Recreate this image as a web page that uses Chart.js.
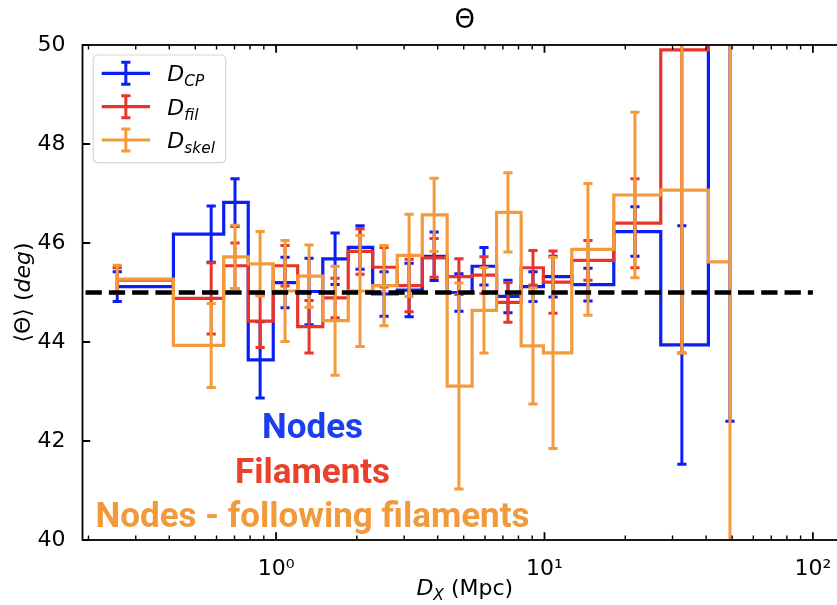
<!DOCTYPE html>
<html><head><meta charset="utf-8">
<script src="https://cdn.jsdelivr.net/npm/chart.js@4/dist/chart.umd.min.js"></script>
<style>
html,body{margin:0;padding:0;overflow:hidden;background:#fff;width:837px;height:605px}
#wrap{width:850px;height:605px;position:relative}
</style></head><body>
<div id="wrap"><canvas id="c"></canvas></div>
<script>
// ---- data ----
const distanceMpc = [0.256, 0.573, 0.703, 0.872, 1.080, 1.327, 1.659, 2.055, 2.525, 3.13, 3.88, 4.80, 5.95, 7.31, 9.06, 10.76, 14.52, 21.73, 32.5, 49.1];
const thetaCP   = [45.12, 46.18, 46.82, 43.64, 45.20, 45.02, 45.68, 45.91, 44.97, 45.05, 45.73, 45.00, 45.53, 44.92, 45.12, 45.32, 45.16, 46.23, 43.94, 55.5];
const errCP     = [0.30, 0.57, 0.48, 0.77, 0.51, 0.67, 0.52, 0.44, 0.45, 0.54, 0.49, 0.38, 0.38, 0.33, 0.30, 0.41, 0.33, 0.50, 2.41, 13.1];
const thetaFil  = [45.25, 44.88, 45.54, 44.42, 45.54, 44.31, 44.89, 45.83, 45.51, 45.14, 45.70, 45.32, 45.35, 44.80, 45.50, 45.21, 45.65, 46.40, 49.90, 55.0];
const errFil    = [0.25, 0.72, 0.46, 0.53, 0.41, 0.53, 0.40, 0.46, 0.40, 0.53, 0.39, 0.36, 0.37, 0.40, 0.35, 0.63, 0.40, 0.90, 6.12, 4.0];
const thetaSkel = [45.27, 43.93, 45.72, 45.58, 45.03, 45.33, 44.43, 45.03, 45.14, 45.75, 46.57, 43.11, 44.64, 46.62, 43.92, 43.78, 45.87, 46.97, 47.07, 45.62];
const errSkel   = [0.28, 0.85, 0.64, 0.65, 1.02, 0.63, 1.10, 1.12, 0.81, 0.83, 0.74, 2.08, 0.86, 0.80, 1.17, 1.93, 1.33, 1.67, 3.29, 6.5];

const seriesSubscripts = ['CP', 'fil', 'skel'];
const seriesColors = ['#0b1ff5', '#e8352c', '#f39a3c'];
const textColors = ['#1a3ef0', '#e9412b', '#f19a3c'];
const annotationTexts = ['Nodes', 'Filaments', 'Nodes - following filaments'];
const annotationX = 1.367;
const annotationY = [42.06, 41.15, 40.26];

const referenceLevel = 45;
const referenceRange = [0.195, 100];
const xRange = [0.19, 134];
const yRange = [40, 50];
const yTickValues = [40, 42, 44, 46, 48, 50];
const xMajorTicks = [1, 10, 100];
const xMinorTicks = [0.2,0.3,0.4,0.5,0.6,0.7,0.8,0.9,2,3,4,5,6,7,8,9,20,30,40,50,60,70,80,90];
const titleText = 'Θ';

// steps-mid in data space (like matplotlib drawstyle='steps-mid')
function stepMid(xs, ys) {
  const pts = [];
  for (let i = 0; i < xs.length; i++) {
    const xl = i === 0 ? xs[0] : (xs[i - 1] + xs[i]) / 2;
    const xr = i === xs.length - 1 ? xs[i] : (xs[i] + xs[i + 1]) / 2;
    pts.push({x: xl, y: ys[i]}, {x: xr, y: ys[i]});
  }
  return pts;
}
const supMap = {'0':'⁰','1':'¹','2':'²','3':'³','-':'⁻'};
const sup = s => String(s).split('').map(c => supMap[c] || c).join('');

const series = [
  {ys: thetaCP, err: errCP},
  {ys: thetaFil, err: errFil},
  {ys: thetaSkel, err: errSkel}
];
const datasets = series.map((s, k) => ({
  label: 'D_' + seriesSubscripts[k],
  data: stepMid(distanceMpc, s.ys),
  borderColor: seriesColors[k],
  borderWidth: 3.2,
  pointRadius: 0,
  fill: false,
  tension: 0,
  clip: 0,
  order: 3 - k,
  errInfo: {xs: distanceMpc, ys: s.ys, err: s.err}
}));
datasets.push({
  label: 'ref',
  data: [{x: referenceRange[0], y: referenceLevel}, {x: referenceRange[1], y: referenceLevel}],
  borderColor: '#000', borderWidth: 4.4, borderDash: [16.3, 7], pointRadius: 0, order: 0, clip: 0
});

const errorBarPlugin = {
  id: 'errorBars',
  afterDatasetDraw(chart, args) {
    const ds = chart.data.datasets[args.index];
    if (!ds.errInfo) return;
    const {ctx, chartArea: a, scales: {x, y}} = chart;
    ctx.save();
    ctx.beginPath(); ctx.rect(a.left, a.top, a.right - a.left, a.bottom - a.top); ctx.clip();
    ctx.strokeStyle = ds.borderColor; ctx.lineWidth = 3; ctx.lineCap = 'butt';
    const e = ds.errInfo;
    e.xs.forEach((xv, i) => {
      const px = x.getPixelForValue(xv);
      const lo = y.getPixelForValue(e.ys[i] - e.err[i]);
      const hi = y.getPixelForValue(e.ys[i] + e.err[i]);
      ctx.beginPath();
      ctx.moveTo(px, lo); ctx.lineTo(px, hi);
      ctx.moveTo(px - 4.6, lo); ctx.lineTo(px + 4.6, lo);
      ctx.moveTo(px - 4.6, hi); ctx.lineTo(px + 4.6, hi);
      ctx.stroke();
    });
    ctx.restore();
  }
};

function drawMixed(ctx, parts, x, y, align) {
  let w = 0;
  parts.forEach(p => { ctx.font = p.font; w += ctx.measureText(p.t).width; });
  let cx = align === 'center' ? x - w / 2 : x;
  parts.forEach(p => { ctx.font = p.font; ctx.fillText(p.t, cx, y + (p.dy || 0)); cx += ctx.measureText(p.t).width; });
}

const overlayPlugin = {
  id: 'overlay',
  afterDatasetsDraw(chart) {
    const {ctx, chartArea: a, scales: {x, y}} = chart;
    ctx.save();
    ctx.strokeStyle = '#000'; ctx.lineWidth = 1.8;
    ctx.strokeRect(a.left, a.top, a.right - a.left, a.bottom - a.top);
    ctx.beginPath();
    xMajorTicks.forEach(v => { const p = x.getPixelForValue(v); if (p < a.left || p > a.right) return;
      ctx.moveTo(p, a.bottom); ctx.lineTo(p, a.bottom - 7.7); ctx.moveTo(p, a.top); ctx.lineTo(p, a.top + 7.7); });
    yTickValues.forEach(v => { const p = y.getPixelForValue(v);
      ctx.moveTo(a.left, p); ctx.lineTo(a.left + 7.7, p); ctx.moveTo(a.right, p); ctx.lineTo(a.right - 7.7, p); });
    ctx.stroke();
    ctx.lineWidth = 1.4;
    ctx.beginPath();
    xMinorTicks.forEach(v => { const p = x.getPixelForValue(v); if (p < a.left || p > a.right) return;
      ctx.moveTo(p, a.bottom); ctx.lineTo(p, a.bottom - 4.4); ctx.moveTo(p, a.top); ctx.lineTo(p, a.top + 4.4); });
    ctx.stroke();

    ctx.textAlign = 'center'; ctx.textBaseline = 'alphabetic';
    ctx.font = 'bold 35px Roboto';
    annotationTexts.forEach((t, i) => {
      ctx.fillStyle = textColors[i];
      ctx.fillText(t, x.getPixelForValue(annotationX), y.getPixelForValue(annotationY[i]));
    });

    const L = a.left + 10.8, T = a.top + 10, W = 132.4, H = 107.7, r = 5;
    ctx.globalAlpha = 0.8;
    ctx.fillStyle = '#fff'; ctx.strokeStyle = '#cccccc'; ctx.lineWidth = 1.2;
    ctx.beginPath();
    ctx.moveTo(L + r, T); ctx.lineTo(L + W - r, T); ctx.quadraticCurveTo(L + W, T, L + W, T + r);
    ctx.lineTo(L + W, T + H - r); ctx.quadraticCurveTo(L + W, T + H, L + W - r, T + H);
    ctx.lineTo(L + r, T + H); ctx.quadraticCurveTo(L, T + H, L, T + H - r);
    ctx.lineTo(L, T + r); ctx.quadraticCurveTo(L, T, L + r, T);
    ctx.closePath(); ctx.fill(); ctx.stroke();
    ctx.globalAlpha = 1;
    seriesSubscripts.forEach((s, i) => {
      const cy = T + 18.3 + i * 33.35;
      const hx0 = L + 8.4, hx1 = L + 56.7, hc = (hx0 + hx1) / 2;
      ctx.strokeStyle = seriesColors[i]; ctx.lineWidth = 3.2;
      ctx.beginPath(); ctx.moveTo(hx0, cy); ctx.lineTo(hx1, cy); ctx.stroke();
      ctx.lineWidth = 3;
      ctx.beginPath();
      ctx.moveTo(hc, cy - 11); ctx.lineTo(hc, cy + 11);
      ctx.moveTo(hc - 4.6, cy - 11); ctx.lineTo(hc + 4.6, cy - 11);
      ctx.moveTo(hc - 4.6, cy + 11); ctx.lineTo(hc + 4.6, cy + 11);
      ctx.stroke();
      ctx.fillStyle = '#000'; ctx.textAlign = 'left'; ctx.textBaseline = 'alphabetic';
      drawMixed(ctx, [
        {t: 'D', font: 'italic 22px "DejaVu Sans"'},
        {t: s, font: 'italic 15.4px "DejaVu Sans"', dy: 5}
      ], L + 74, cy + 8, 'left');
    });

    ctx.fillStyle = '#000'; ctx.textAlign = 'left'; ctx.textBaseline = 'alphabetic';
    drawMixed(ctx, [
      {t: 'D', font: 'italic 22px "DejaVu Sans"'},
      {t: 'X', font: 'italic 15.4px "DejaVu Sans"', dy: 5},
      {t: ' (Mpc)', font: '22px "DejaVu Sans"'}
    ], (a.left + a.right) / 2, 595, 'center');

    ctx.save();
    ctx.translate(30, (a.top + a.bottom) / 2);
    ctx.rotate(-Math.PI / 2);
    drawMixed(ctx, [
      {t: '⟨Θ⟩ (', font: '22px "DejaVu Sans"'},
      {t: 'deg', font: 'italic 22px "DejaVu Sans"'},
      {t: ')', font: '22px "DejaVu Sans"'}
    ], 0, 0, 'center');
    ctx.restore();
    ctx.restore();
  }
};

new Chart(document.getElementById('c'), {
  type: 'line',
  data: {datasets},
  options: {
    responsive: true,
    maintainAspectRatio: false,
    animation: false,
    events: [],
    layout: {padding: {left: 0, right: 3, top: 0, bottom: 0}},
    plugins: {
      legend: {display: false},
      tooltip: {enabled: false},
      title: {
        display: true, text: titleText, fullSize: false, color: '#000',
        font: {family: 'DejaVu Sans', size: 26, weight: 'normal', lineHeight: 1.2},
        padding: {top: 6, bottom: 7.8}
      }
    },
    scales: {
      x: {
        type: 'logarithmic', min: xRange[0], max: xRange[1],
        grid: {display: false}, border: {display: false},
        afterBuildTicks: s => { s.ticks = xMajorTicks.map(v => ({value: v, major: true})); },
        afterFit: s => { s.height = 65; },
        ticks: {
          autoSkip: false, maxRotation: 0, padding: 8, color: '#000',
          font: {family: 'DejaVu Sans', size: 22},
          callback: v => '10' + sup(Math.round(Math.log10(v)))
        }
      },
      y: {
        type: 'linear', min: yRange[0], max: yRange[1],
        grid: {display: false}, border: {display: false},
        afterBuildTicks: s => { s.ticks = yTickValues.map(v => ({value: v})); },
        afterFit: s => { s.width = 82.5; },
        ticks: {padding: 9, color: '#000', font: {family: 'DejaVu Sans', size: 22}}
      }
    }
  },
  plugins: [errorBarPlugin, overlayPlugin]
});
</script>
</body></html>
